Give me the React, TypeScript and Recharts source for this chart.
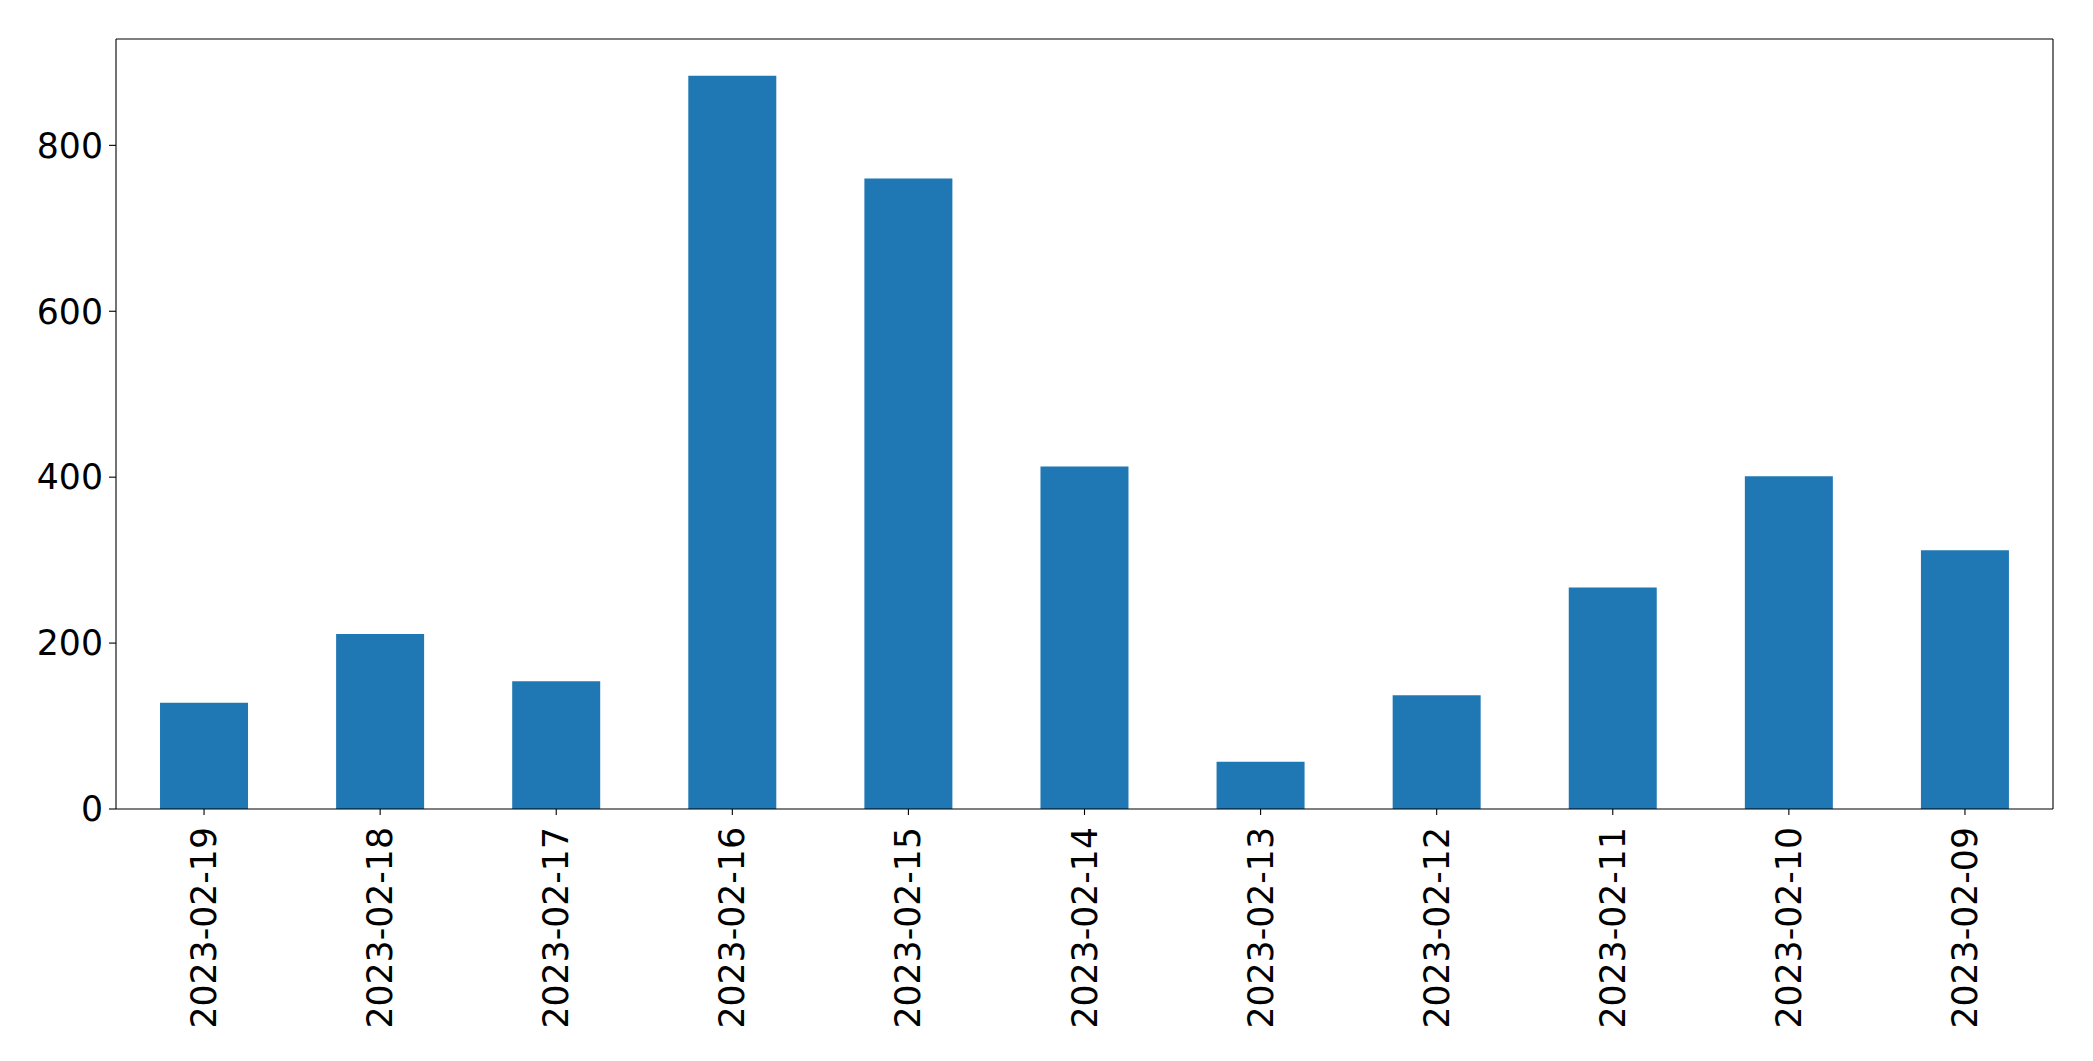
import { Bar, BarChart, CartesianGrid, XAxis, YAxis } from "recharts";

const dates = [
  "2023-02-19",
  "2023-02-18",
  "2023-02-17",
  "2023-02-16",
  "2023-02-15",
  "2023-02-14",
  "2023-02-13",
  "2023-02-12",
  "2023-02-11",
  "2023-02-10",
  "2023-02-09",
];
const counts = [128, 211, 154, 884, 760, 413, 57, 137, 267, 401, 312];
const yTicks = [0, 200, 400, 600, 800];

const data = dates.map((date, i) => ({ date, count: counts[i] }));

const FONT = "'DejaVu Sans', sans-serif";

function DateTick({ x, y, payload }: any) {
  return (
    <text
      x={0}
      y={0}
      transform={`translate(${x + 12},${y + 10}) rotate(-90)`}
      textAnchor="end"
      fontFamily={FONT}
      fontSize={34.7}
      fill="#000"
    >
      {payload.value}
    </text>
  );
}

export default function App() {
  return (
    <div style={{ position: "absolute", left: 0, top: 0, background: "#fff" }}>
      <BarChart
        width={2093}
        height={1061}
        data={data}
        margin={{ top: 39, right: 40, bottom: 0, left: 0 }}
        barCategoryGap="25%"
      >
        {/* top and right spines of the matplotlib-style frame */}
        <CartesianGrid
          stroke="#000"
          strokeWidth={1.1}
          horizontalCoordinatesGenerator={({ offset }: any) => [offset.top]}
          verticalCoordinatesGenerator={({ offset }: any) => [offset.left + offset.width]}
        />
        <XAxis
          dataKey="date"
          height={252}
          interval={0}
          tick={<DateTick />}
          tickSize={6}
          axisLine={{ stroke: "#000", strokeWidth: 1.1 }}
          tickLine={{ stroke: "#000", strokeWidth: 1.1 }}
        />
        <YAxis
          width={116}
          domain={[0, 928.2]}
          ticks={yTicks}
          tickSize={7}
          tickMargin={6}
          tick={{ fontFamily: FONT, fontSize: 34.7, fill: "#000" }}
          axisLine={{ stroke: "#000", strokeWidth: 1.1 }}
          tickLine={{ stroke: "#000", strokeWidth: 1.1 }}
        />
        <Bar dataKey="count" fill="#1f77b4" isAnimationActive={false} />
      </BarChart>
    </div>
  );
}
